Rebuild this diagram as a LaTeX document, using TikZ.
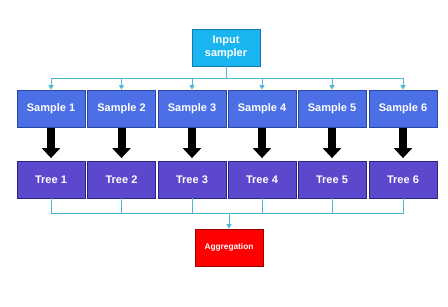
\documentclass[tikz,border=0pt]{standalone}
\usepackage{fontspec}
\setmainfont{Liberation Sans}
\usetikzlibrary{arrows.meta}
\definecolor{inputblue}{HTML}{19B5F0}
\definecolor{inputedge}{HTML}{1A78A8}
\definecolor{sampleblue}{HTML}{4D6FE6}
\definecolor{sampleedge}{HTML}{2B47A6}
\definecolor{treeviolet}{HTML}{5C48CC}
\definecolor{treeedge}{HTML}{2D2380}
\definecolor{aggred}{HTML}{FF0000}
\definecolor{aggedge}{HTML}{9E0000}
\definecolor{linkblue}{HTML}{4DB8DC}
\tikzset{
  box/.style={draw, line width=0.8pt, minimum width=68pt, minimum height=37pt,
    inner sep=1pt, text=white, font=\bfseries\fontsize{11}{12.5}\selectfont, align=center},
  inbox/.style={box, fill=inputblue, draw=inputedge},
  samplebox/.style={box, fill=sampleblue, draw=sampleedge},
  treebox/.style={box, fill=treeviolet, draw=treeedge},
  aggbox/.style={box, fill=aggred, draw=aggedge, font=\bfseries\fontsize{8.3}{10}\selectfont},
  link/.style={draw=linkblue, line width=0.9pt},
  linkarrow/.style={link, -{Triangle[width=5pt,length=4.5pt]}},
  bigarrow/.style={line width=8pt, -{Triangle[width=18pt,length=10pt]},
    shorten <=1pt, shorten >=2.5pt}
}
\begin{document}
\begin{tikzpicture}[x=1pt,y=1pt]
    \useasboundingbox (0,0) rectangle (448,-306);
    \node[inbox] (in) at (226,-47.5) {Input\\sampler};
    \node[samplebox] (s1) at (51,-108.5) {Sample 1};
    \node[samplebox] (s2) at (121.5,-108.5) {Sample 2};
    \node[samplebox] (s3) at (192,-108.5) {Sample 3};
    \node[samplebox] (s4) at (262,-108.5) {Sample 4};
    \node[samplebox] (s5) at (332,-108.5) {Sample 5};
    \node[samplebox] (s6) at (403,-108.5) {Sample 6};
    \node[treebox] (t1) at (51,-179.5) {Tree 1};
    \node[treebox] (t2) at (121.5,-179.5) {Tree 2};
    \node[treebox] (t3) at (192,-179.5) {Tree 3};
    \node[treebox] (t4) at (262,-179.5) {Tree 4};
    \node[treebox] (t5) at (332,-179.5) {Tree 5};
    \node[treebox] (t6) at (403,-179.5) {Tree 6};
    \node[aggbox] (agg) at (229,-247.5) {Aggregation};
    \coordinate (split) at (226,-78);
    \coordinate (merge) at (229,-213);
    \draw[link] (in.south) -- (split);
    \draw[linkarrow] (split) -| (s1.north);
    \draw[linkarrow] (split) -| (s2.north);
    \draw[linkarrow] (split) -| (s3.north);
    \draw[linkarrow] (split) -| (s4.north);
    \draw[linkarrow] (split) -| (s5.north);
    \draw[linkarrow] (split) -| (s6.north);
    \draw[bigarrow] (s1.south) -- (t1.north);
    \draw[bigarrow] (s2.south) -- (t2.north);
    \draw[bigarrow] (s3.south) -- (t3.north);
    \draw[bigarrow] (s4.south) -- (t4.north);
    \draw[bigarrow] (s5.south) -- (t5.north);
    \draw[bigarrow] (s6.south) -- (t6.north);
    \draw[link] (t1.south) |- (merge);
    \draw[link] (t2.south) |- (merge);
    \draw[link] (t3.south) |- (merge);
    \draw[link] (t4.south) |- (merge);
    \draw[link] (t5.south) |- (merge);
    \draw[link] (t6.south) |- (merge);
    \draw[linkarrow] (merge) -- (agg.north);
\end{tikzpicture}
\end{document}
